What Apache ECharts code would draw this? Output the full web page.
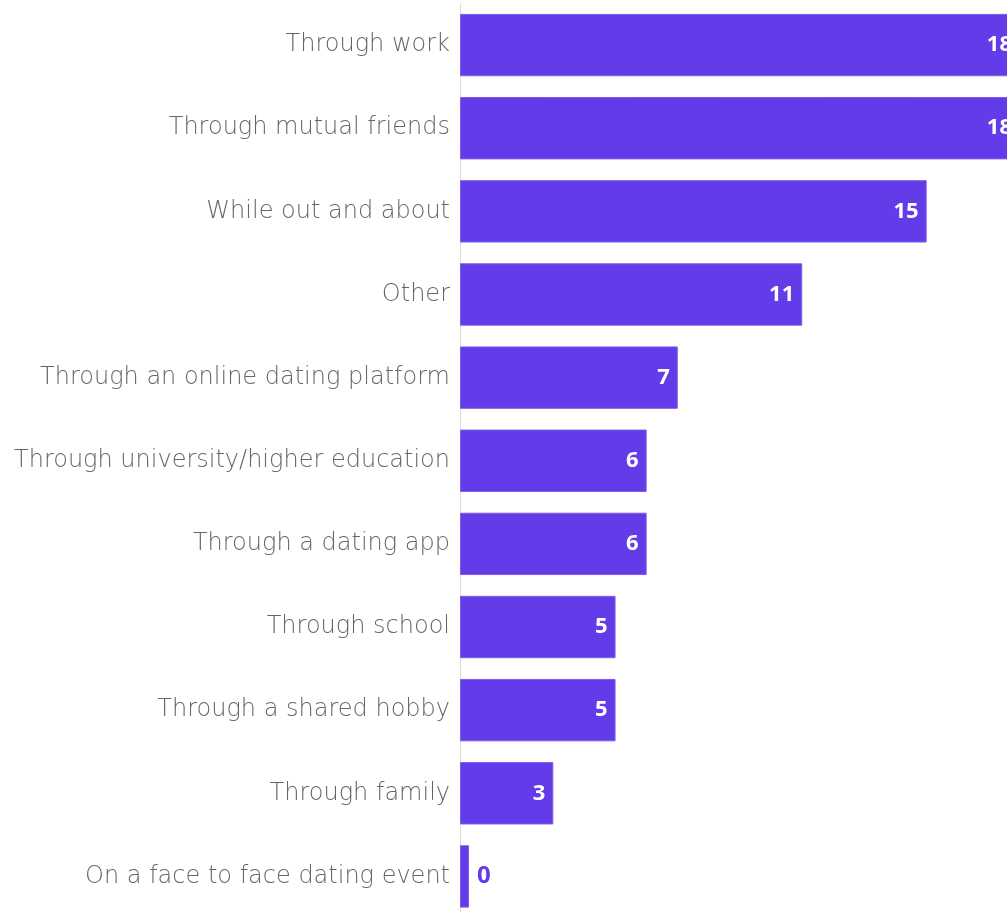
<!DOCTYPE html>
<html><head><meta charset="utf-8">
<script src="https://cdn.jsdelivr.net/npm/echarts@6/dist/echarts.min.js"></script>
<style>html,body{margin:0;padding:0;background:#fff;overflow:hidden}#c{width:1020px;height:918px}</style>
</head><body><div id="c"></div>
<script>
const categories = ["Through work","Through mutual friends","While out and about","Other","Through an online dating platform","Through university/higher education","Through a dating app","Through school","Through a shared hobby","Through family","On a face to face dating event"];
const values = [18,18,15,11,7,6,6,5,5,3,0];

const barColor = '#633BE8';
const chart = echarts.init(document.getElementById('c'));
chart.setOption({
  animation:false,
  grid:{left:460,right:0,top:3.5,bottom:0,containLabel:false},
  xAxis:{type:'value',min:0,max:18,show:false},
  yAxis:{type:'category',inverse:true,data:categories,
    axisLine:{show:true,lineStyle:{color:'#dddddd',width:1}},
    axisTick:{show:false},
    axisLabel:{margin:10,color:'#666666',fontFamily:'DejaVu Sans',fontWeight:200,fontSize:24}},
  series:[{type:'bar',barCategoryGap:'25%',barMinHeight:9,
    itemStyle:{color:barColor,borderColor:'#7d5cec',borderWidth:1},
    label:{show:true,position:'insideRight',distance:8,color:'#fff',fontFamily:'Open Sans',fontWeight:'bold',fontSize:22},
    data:values.map(v=> v===0 ? {value:v,label:{position:'right',distance:8,color:barColor,fontSize:24}} : v)
  }]
});
</script></body></html>
